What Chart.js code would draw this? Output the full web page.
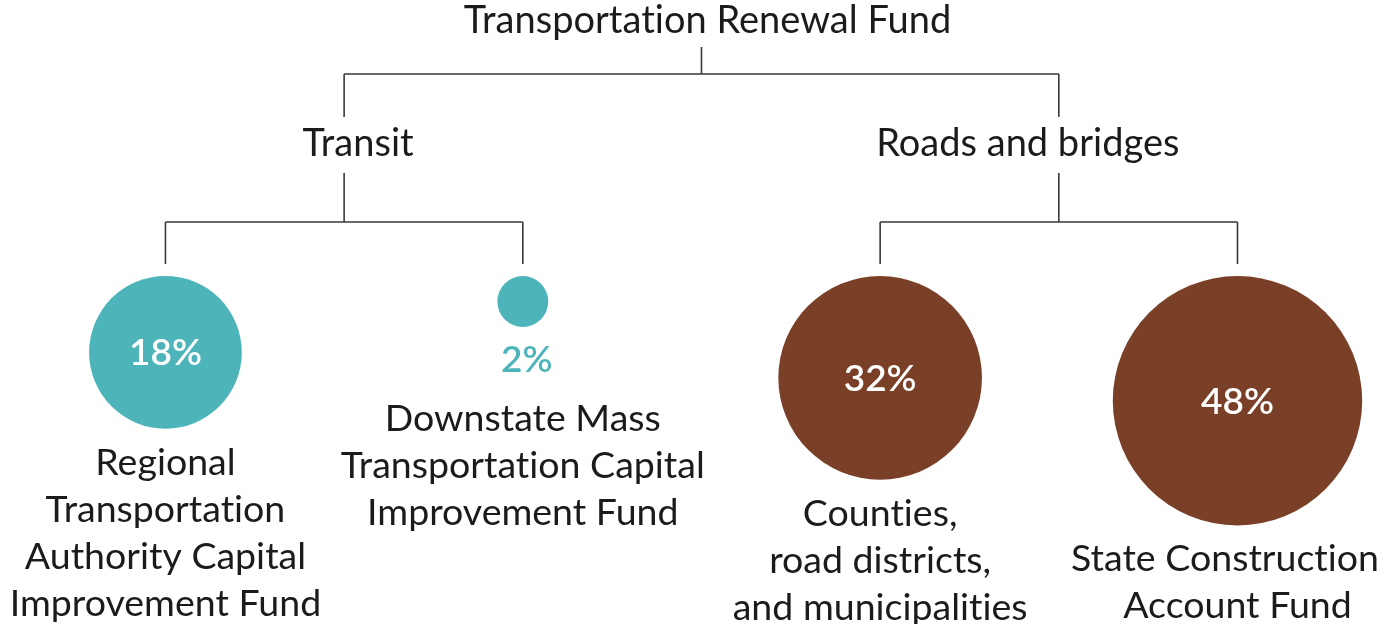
<!DOCTYPE html>
<html>
<head>
<meta charset="utf-8">
<script src="https://cdn.jsdelivr.net/npm/chart.js@4.4.1/dist/chart.umd.min.js"></script>
<style>
  html, body { margin: 0; padding: 0; background: #ffffff; }
  #wrap { width: 1384px; height: 624px; }
</style>
</head>
<body>
<div id="wrap"><canvas id="c" width="1384" height="624"></canvas></div>
<script>
// ---- data ----
const rootLabel = 'Transportation Renewal Fund';
const groupLabels = ['Transit', 'Roads and bridges'];
const leafGroups = [0, 0, 1, 1];
const leafNames = [
  ['Regional', 'Transportation', 'Authority Capital', 'Improvement Fund'],
  ['Downstate Mass', 'Transportation Capital', 'Improvement Fund'],
  ['Counties,', 'road districts,', 'and municipalities'],
  ['State Construction', 'Account Fund']
];
const leafShares = [18, 2, 32, 48];
const groupColors = ['#4db5b9', '#7a3f27'];

// ---- layout / style ----
const RADIUS_K = 18;            // bubble radius = K * sqrt(share) (area ∝ share)
const INSIDE_MIN_R = 40;        // below this, the % label goes under the bubble
const ROW = { title: 33, rootStemTop: 47, rootBar: 74, groupStemBottom: 117,
              groupLabel: 156, groupStemTop: 173, groupBar: 222, leafDrop: 264, leafTop: 276 };
const GROUP_LABEL_SHIFT = [14, -31];
const EDGE = 5;
const FONT = "'Lato', 'Open Sans', sans-serif";
const TEXT_COLOR = '#1b1b1b';
const LINE_COLOR = '#3a3a3a';

const bubbleData = leafShares.map((v, i) => ({ x: i, y: ROW.leafTop, r: RADIUS_K * Math.sqrt(v), share: v }));

function noLig(ctx) {
  if ('textRendering' in ctx) ctx.textRendering = 'optimizeSpeed';
  if ('letterSpacing' in ctx) ctx.letterSpacing = '0.01px';
}

const treePlugin = {
  id: 'tree',
  afterDatasetsUpdate(chart) {
    // hang each bubble from the drop line: its top sits on the leaf row
    chart.getDatasetMeta(0).data.forEach(el => { el.y += el.options.radius; });
  },
  beforeDatasetsDraw(chart) {
    const ctx = chart.ctx;
    const xs = chart.scales.x;
    const ys = chart.scales.y;
    const leafX = leafShares.map((_, i) => xs.getPixelForValue(i));
    const groupX = groupLabels.map((_, g) => {
      const idx = leafGroups.map((gg, i) => gg === g ? i : -1).filter(i => i >= 0);
      return idx.reduce((s, i) => s + leafX[i], 0) / idx.length;
    });
    const rootX = groupX.reduce((s, v) => s + v, 0) / groupX.length;
    const Y = k => ys.getPixelForValue(ROW[k]);

    ctx.save();
    ctx.strokeStyle = LINE_COLOR;
    ctx.lineWidth = 1.6;
    ctx.beginPath();
    ctx.moveTo(rootX, Y('rootStemTop')); ctx.lineTo(rootX, Y('rootBar'));
    ctx.moveTo(groupX[0], Y('rootBar')); ctx.lineTo(groupX[groupX.length - 1], Y('rootBar'));
    groupX.forEach((gx, g) => {
      ctx.moveTo(gx, Y('rootBar')); ctx.lineTo(gx, Y('groupStemBottom'));
      ctx.moveTo(gx, Y('groupStemTop')); ctx.lineTo(gx, Y('groupBar'));
      const kids = leafX.filter((_, i) => leafGroups[i] === g);
      ctx.moveTo(Math.min(...kids), Y('groupBar')); ctx.lineTo(Math.max(...kids), Y('groupBar'));
      kids.forEach(kx => { ctx.moveTo(kx, Y('groupBar')); ctx.lineTo(kx, Y('leafDrop')); });
    });
    ctx.stroke();

    noLig(ctx);
    ctx.fillStyle = TEXT_COLOR;
    ctx.textAlign = 'center';
    ctx.textBaseline = 'alphabetic';
    ctx.font = '38px ' + FONT;
    ctx.fillText(rootLabel, rootX + 6, Y('title'));
    groupLabels.forEach((lab, g) => ctx.fillText(lab, groupX[g] + GROUP_LABEL_SHIFT[g], Y('groupLabel')));
    ctx.restore();
  },
  afterDatasetsDraw(chart) {
    const ctx = chart.ctx;
    const meta = chart.getDatasetMeta(0);
    const W = chart.width;
    ctx.save();
    noLig(ctx);
    ctx.textAlign = 'center';
    ctx.textBaseline = 'alphabetic';
    meta.data.forEach((el, i) => {
      const r = el.options.radius;
      const pct = leafShares[i] + '%';
      let y = el.y + r;
      ctx.font = '600 37px ' + FONT;
      if (r >= INSIDE_MIN_R) {
        ctx.fillStyle = '#ffffff';
        ctx.fillText(pct, el.x, el.y + 13);
        y += 46;
      } else {
        ctx.fillStyle = groupColors[leafGroups[i]];
        ctx.fillText(pct, el.x + 4, y + 45);
        y += 45 + 59;
      }
      ctx.font = '37.5px ' + FONT;
      ctx.fillStyle = TEXT_COLOR;
      leafNames[i].forEach((line, k) => {
        const half = ctx.measureText(line).width / 2;
        const cx = Math.max(EDGE + half, Math.min(W - EDGE - half, el.x));
        ctx.fillText(line, cx, y + k * 47);
      });
    });
    ctx.restore();
  }
};

new Chart(document.getElementById('c'), {
  type: 'bubble',
  data: {
    datasets: [{
      data: bubbleData,
      backgroundColor: leafGroups.map(g => groupColors[g]),
      borderWidth: 0,
      radius: 0,
      hoverRadius: 0,
      clip: false
    }]
  },
  options: {
    responsive: false,
    animation: false,
    events: [],
    layout: { padding: 0, autoPadding: false },
    plugins: { legend: { display: false }, tooltip: { enabled: false } },
    scales: {
      x: { type: 'linear', min: -0.463, max: 3.41, display: false },
      y: { type: 'linear', min: 0, max: 624, reverse: true, display: false }
    }
  },
  plugins: [treePlugin]
});
</script>
</body>
</html>
